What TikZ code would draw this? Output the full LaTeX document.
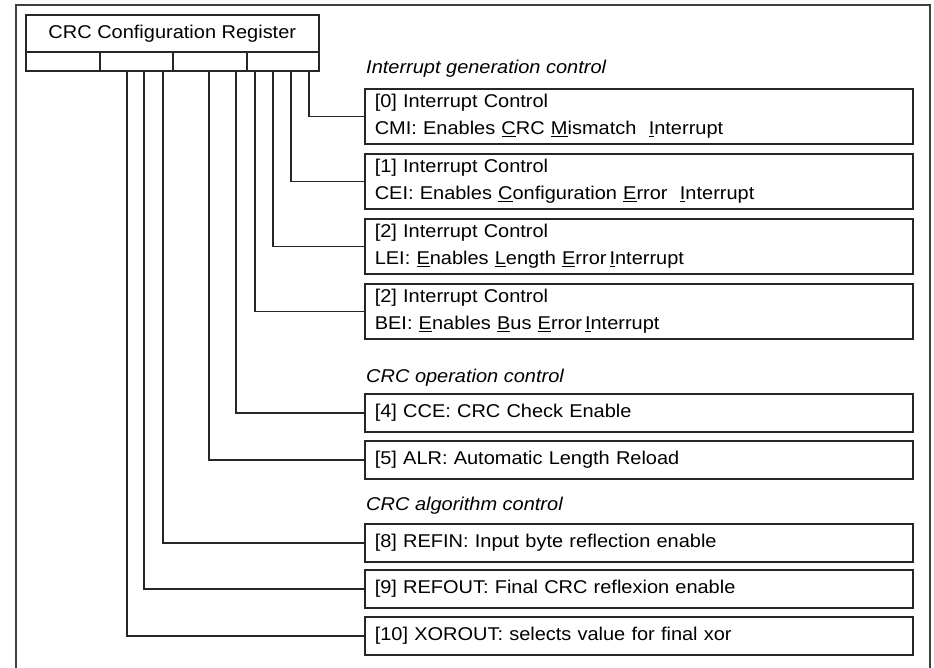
\documentclass[tikz,border=0pt]{standalone}
\usepackage{fontspec}
\setmainfont{Liberation Sans}[FakeStretch=1.08]
\newcommand\ulet[1]{\underline{#1}}
\begin{document}
\begin{tikzpicture}[x=1pt,y=-1pt,
  every node/.style={font=\fontsize{18.5}{26.5}\selectfont, text=black},
  frame/.style={draw=black!75, line width=1.5pt},
  regbox/.style={draw=black!85, line width=1.6pt, inner sep=0pt, anchor=north west},
  infobox/.style={draw=black!85, line width=1.6pt, anchor=north west, minimum width=548pt,
     text width=528pt, inner xsep=10pt, inner ysep=0pt, align=left},
  onebox/.style={infobox, minimum height=38pt},
  twobox/.style={infobox, minimum height=55pt},
  hdr/.style={anchor=base west, inner sep=0pt, font=\fontsize{18.5}{22}\selectfont\itshape},
  conn/.style={draw=black!85, line width=1.6pt}]
\useasboundingbox (0,0) rectangle (934,667);
\clip (0,0) rectangle (934,667);
\draw[frame] (16,700) -- (16,5) -- (930,5) -- (930,700);

% register
\node[regbox, minimum width=293pt, minimum height=37pt] (title) at (25,14) {CRC Configuration Register};
\node[regbox, minimum width=74pt, minimum height=19pt] (c1) at (25,51) {};
\node[regbox, minimum width=73pt, minimum height=19pt] (c2) at (99,51) {};
\node[regbox, minimum width=74pt, minimum height=19pt] (c3) at (172,51) {};
\node[regbox, minimum width=72pt, minimum height=19pt] (c4) at (246,51) {};

% headers
\node[hdr] (h1) at (366,73) {Interrupt generation control};
\node[hdr] (h2) at (366,382) {CRC operation control};
\node[hdr] (h3) at (366,510) {CRC algorithm control};

% boxes
\node[twobox] (b0) at (364,88) {[0] Interrupt Control\\CMI: Enables \ulet{C}RC \ulet{M}ismatch\ \ \ulet{I}nterrupt};
\node[twobox] (b1) at (364,153) {[1] Interrupt Control\\CEI: Enables \ulet{C}onfiguration \ulet{E}rror\ \ \ulet{I}nterrupt};
\node[twobox] (b2) at (364,218) {[2] Interrupt Control\\LEI: \ulet{E}nables \ulet{L}ength \ulet{E}rror\kern3pt\ulet{I}nterrupt};
\node[twobox] (b3) at (364,283) {[2] Interrupt Control\\BEI: \ulet{E}nables \ulet{B}us \ulet{E}rror\kern3pt\ulet{I}nterrupt};
\node[onebox] (b4) at (364,393) {[4] CCE: CRC Check Enable};
\node[onebox] (b5) at (364,440) {[5] ALR: Automatic Length Reload};
\node[onebox] (b8) at (364,523) {[8] REFIN: Input byte reflection enable};
\node[onebox] (b9) at (364,569) {[9] REFOUT: Final CRC reflexion enable};
\node[onebox] (b10) at (364,616) {[10] XOROUT: selects value for final xor};

% connectors
\draw[conn] ([xshift=63pt]c4.south west) |- (b0.west);
\draw[conn] ([xshift=45pt]c4.south west) |- (b1.west);
\draw[conn] ([xshift=27pt]c4.south west) |- (b2.west);
\draw[conn] ([xshift=9pt]c4.south west) |- (b3.west);
\draw[conn] ([xshift=64pt]c3.south west) |- (b4.west);
\draw[conn] ([xshift=37pt]c3.south west) |- (b5.west);
\draw[conn] ([xshift=64pt]c2.south west) |- (b8.west);
\draw[conn] ([xshift=45pt]c2.south west) |- (b9.west);
\draw[conn] ([xshift=28pt]c2.south west) |- (b10.west);
\end{tikzpicture}
\end{document}
